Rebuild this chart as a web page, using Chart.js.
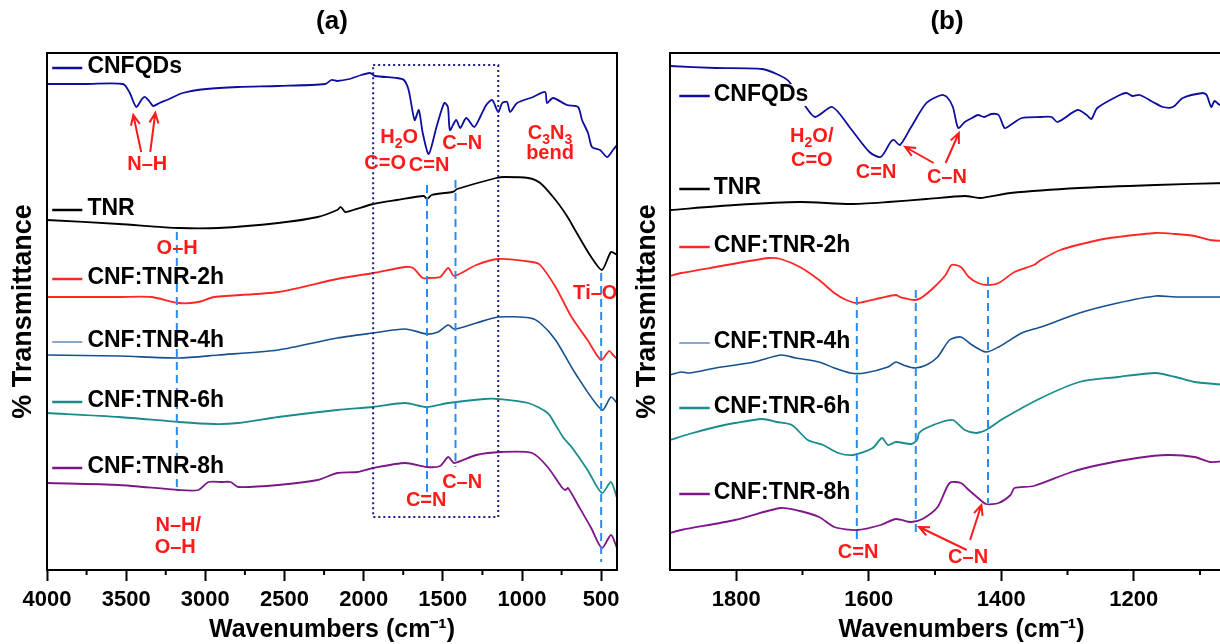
<!DOCTYPE html>
<html>
<head>
<meta charset="utf-8">
<title>FTIR spectra</title>
<script src="https://cdn.jsdelivr.net/npm/chart.js@4.4.1/dist/chart.umd.min.js"></script>
<style>
  html, body { margin: 0; padding: 0; background: #fff; width: 1220px; height: 644px; overflow: hidden; }
  .panel { position: absolute; top: 0; height: 644px; }
  #wrapA { left: 0; width: 620px; }
  #wrapB { left: 620px; width: 640px; }
</style>
</head>
<body>
<div class="panel" id="wrapA"><canvas id="chartA" width="620" height="644"></canvas></div>
<div class="panel" id="wrapB"><canvas id="chartB" width="640" height="644"></canvas></div>
<script>
const FONT = "'Liberation Sans', Arial, Helvetica, sans-serif";
Chart.defaults.font.family = FONT;
Chart.defaults.color = "#000";

// ---------- panel (a): full range, [wavenumber cm-1, %T (offset, a.u.)] ----------
const cnfqdsA = [[4000,97.2],[3750,97.2],[3520,97.2],[3480,95.6],[3436,92.6],[3400,94.2],[3380,94.6],[3355,93.8],[3330,92.8],[3290,93.4],[3243,94],[3143,95.4],[2994,96.2],[2792,96.6],[2540,96.8],[2243,97.2],[2204,98],[2167,97.8],[2090,98.2],[2015,99],[1960,99.4],[1928,98.8],[1790,98.4],[1746,98],[1716,96],[1678,90],[1652,92],[1627,87.4],[1589,83.2],[1540,88.6],[1491,93.4],[1468,92.6],[1455,88],[1416,90],[1390,88.4],[1352,90.4],[1302,88.6],[1264,90.6],[1226,93],[1188,94],[1150,91.6],[1125,93.4],[1094,93.6],[1075,91.6],[1031,93.4],[930,94.6],[854,95.6],[842,93.4],[804,94.4],[716,93],[646,92.6],[621,90],[583,87.4],[558,84.6],[507,84],[463,82.6],[425,84],[400,85]];
const tnrA = [[4000,70],[3544,69.2],[3167,68.4],[2918,68.4],[2540,69.4],[2290,70.6],[2167,72],[2145,72.6],[2116,71.6],[2066,72],[1940,73.2],[1790,74],[1620,74.8],[1600,74.2],[1570,75],[1440,75.6],[1425,75.8],[1410,76.2],[1163,78.4],[1112,78.6],[961,78.4],[885,77.4],[788,74],[712,70.6],[665,68],[563,62.6],[495,60],[438,63.6],[400,63]];
const tnr2hA = [[4000,54.6],[3544,54.6],[3342,54.6],[3167,53.4],[3044,53.6],[2943,54.6],[2540,55.6],[2167,58.2],[1940,59.4],[1738,60.6],[1688,60.4],[1627,58.4],[1590,58.4],[1517,58.6],[1466,60.4],[1428,58.8],[1289,61],[1150,62.2],[936,61.6],[885,61],[788,56.6],[687,50.6],[586,46],[500,42],[450,43.8],[425,43],[400,42.2]];
const tnr4hA = [[4000,43],[3544,42.8],[3167,42.4],[2918,43],[2540,44],[2167,46.4],[1940,47.4],[1738,48.2],[1600,47.2],[1530,47.6],[1466,49],[1428,48.2],[1289,49.4],[1150,50.6],[949,50.4],[885,49.4],[788,46],[665,39.4],[495,32],[438,34.6],[400,33.4]];
const tnr6hA = [[4000,31.4],[3544,30.6],[3167,29.6],[2943,29.2],[2792,29.4],[2540,30.6],[2167,32],[1940,32.6],[1738,33.4],[1600,32.6],[1466,33.4],[1239,34.2],[1150,34.2],[961,33.4],[838,31.4],[788,29],[737,26.4],[687,24.6],[586,20],[495,15.4],[438,17.6],[400,14.4]];
const tnr8hA = [[4000,17.4],[3544,17],[3167,16],[3044,16],[2980,17.6],[2893,17.6],[2840,17.6],[2792,16.6],[2540,17],[2290,18],[2167,19.4],[2041,19.6],[1940,20.4],[1738,21.4],[1602,20.6],[1517,20.8],[1466,22.6],[1428,21.4],[1289,23],[1132,23.6],[936,23.4],[838,20.6],[750,16.6],[725,16],[709,16.4],[639,12.6],[563,8.4],[495,4.4],[438,7],[400,4.4]];
const ticksA = [500,750,1000,1250,1500,1750,2000,2250,2500,2750,3000,3250,3500,3750,4000];
const majorA = [500,1000,1500,2000,2500,3000,3500,4000];
const keyYA = [100.6, 72.2, 58.4, 45.8, 33.8, 20.6];
const keyXA = [3967, 3777, 3745];
const dashA = [[3180,67.6,15.6],[1600,77,15],[1420,78,20.6],[500,59.4,1.6]];
const boxA = [1940, 1150, 101, 10.6];
const peaksA = [["N–H",3367,81.2],["H_2O",1776,86.6],["C=O",1864,81.4],["C=N",1587,81],["C–N",1378,85.4],["C_3N_3",823,87.4],["bend",823,83.4],["O–H",3178,64.4],["Ti–O",538,55.4],["C=N",1605,14],["C–N",1378,17.6],["N–H/",3171,9],["O–H",3190,4.6]];
const arrowsA = [[3405,83.6,3455,91],[3348,83.6,3316,91.4]];

// ---------- panel (b): 1900-1020 cm-1 zoom ----------
const cnfqdsB = [[1900,100.8],[1831,100.4],[1761,100.2],[1739,99.2],[1721,97.8],[1698,93.2],[1681,90.6],[1655,92.6],[1628,88.4],[1599,83.6],[1582,82.6],[1567,85.6],[1562,86],[1553,85],[1536,88.6],[1513,93.4],[1490,95],[1482,94.6],[1473,92.6],[1465,88.4],[1455,89.6],[1444,90.4],[1435,91],[1426,90.6],[1415,91.2],[1404,91],[1395,88.4],[1386,89],[1369,90.4],[1340,90.6],[1324,90.6],[1315,89.6],[1285,92],[1271,91],[1264,90.2],[1255,92.4],[1221,95],[1211,95.4],[1202,94.8],[1191,95],[1171,93.6],[1156,92.6],[1141,92.6],[1126,94.4],[1096,95.4],[1090,95],[1083,92.6],[1078,93.8],[1070,93],[1060,93.4]];
const tnrB = [[1900,72],[1802,73],[1704,73.6],[1628,73.2],[1571,73.6],[1513,74.2],[1455,74.8],[1432,74.4],[1386,75.4],[1282,76.4],[1167,77],[1060,77.4]];
const tnr2hB = [[1900,58.8],[1883,59.4],[1831,60.6],[1751,62.4],[1733,62.2],[1704,60.6],[1675,58],[1652,55.4],[1634,54],[1617,53.4],[1582,54.4],[1559,55],[1553,54.6],[1530,54],[1519,54.6],[1501,56.6],[1484,59],[1475,61],[1461,60.6],[1449,58.6],[1435,57.4],[1421,57],[1404,57.4],[1380,59.6],[1351,61],[1340,62],[1311,64],[1253,66],[1224,66.6],[1167,67.4],[1137,67.2],[1108,66.8],[1085,66],[1060,65.8]];
const tnr4hB = [[1900,39],[1883,39.6],[1871,39.4],[1831,40.4],[1773,41.6],[1733,43],[1710,42.4],[1675,41.6],[1652,40.4],[1628,39.4],[1606,39.4],[1571,40.6],[1559,41.6],[1548,41],[1530,40.4],[1513,41],[1496,42.6],[1478,46],[1461,46.6],[1444,45],[1423,43.6],[1404,44.6],[1369,47.4],[1340,48.6],[1282,51.4],[1224,53.4],[1167,54.8],[1137,54.6],[1108,54.6],[1060,54.6]];
const tnr6hB = [[1900,26],[1871,27.2],[1831,28.6],[1802,29.4],[1761,30.2],[1739,29.6],[1716,29],[1692,26],[1669,25],[1646,23.4],[1623,23],[1594,24.4],[1580,26.4],[1571,25],[1559,25.6],[1536,25.2],[1527,26],[1524,27.4],[1513,28.4],[1490,29.6],[1473,30],[1455,28],[1438,27.4],[1423,28],[1398,30.2],[1340,34.4],[1282,37.6],[1224,38.6],[1167,39.4],[1137,38.6],[1108,37.6],[1060,37]];
const tnr8hB = [[1900,7.4],[1883,8],[1802,10],[1733,12.4],[1704,11.8],[1675,10.6],[1652,8.6],[1617,8],[1582,9],[1559,10.2],[1536,9.6],[1519,10.2],[1496,12.6],[1478,17.4],[1461,17.4],[1449,16],[1435,14.4],[1423,13.2],[1404,13.4],[1386,15],[1380,16.4],[1351,16.8],[1294,19.6],[1253,21],[1195,22.4],[1149,23],[1108,22.6],[1085,21.6],[1060,21.8]];
const ticksB = [1100,1200,1300,1400,1500,1600,1700,1800];
const majorB = [1200,1400,1600,1800];
const keyYB = [95, 76.4, 64.8, 45.6, 32.6, 15.4];
const keyXB = [1886, 1840, 1834];
const dashB = [[1618,54.6,5.6],[1529,56,7.4],[1420,58.6,13.4]];
const peaksB = [["H_2O/",1686,86.8],["C=O",1686,82],["C=N",1589,79.6],["C–N",1482,78.6],["C=N",1616,3.6],["C–N",1450,2.6]];
const arrowsB = [[1502,81.4,1545,84.6],[1484,81.4,1464,87.4],[1452,4,1524,8.6],[1447,6,1430,13]];

const names = ["CNFQDs", "TNR", "CNF:TNR-2h", "CNF:TNR-4h", "CNF:TNR-6h", "CNF:TNR-8h"];
const colors = ["#0d0d9e", "#000000", "#ff2626", "#17508f", "#1a8b8b", "#7c1689"];
const keyWidths = [2.5, 2.5, 2.5, 1, 2.5, 2.5];
const RED = "#ff1a1a";

function toXY(arr) {
  return arr.map(p => ({ x: p[0], y: p[1] }));
}

// text with "_d" subscripts, e.g. H_2O
function drawRich(ctx, str, x, y, size, align) {
  const parts = [];
  for (let i = 0; i < str.length; i++) {
    if (str[i] === "_") { parts.push({ t: str[i + 1], sub: true }); i++; }
    else parts.push({ t: str[i], sub: false });
  }
  const big = "bold " + size + "px " + FONT;
  const small = "bold " + Math.round(size * 0.72) + "px " + FONT;
  let w = 0;
  parts.forEach(p => { ctx.font = p.sub ? small : big; p.w = ctx.measureText(p.t).width; w += p.w; });
  let cx = align === "left" ? x : x - w / 2;
  ctx.textAlign = "left";
  ctx.textBaseline = "middle";
  parts.forEach(p => {
    ctx.font = p.sub ? small : big;
    ctx.fillText(p.t, cx, p.sub ? y + size * 0.38 : y);
    cx += p.w;
  });
  return w;
}

function drawArrow(ctx, x0, y0, x1, y1) {
  const ang = Math.atan2(y1 - y0, x1 - x0), L = 11, s = 0.42;
  ctx.beginPath();
  ctx.moveTo(x0, y0);
  ctx.lineTo(x1, y1);
  ctx.moveTo(x1 - L * Math.cos(ang - s), y1 - L * Math.sin(ang - s));
  ctx.lineTo(x1, y1);
  ctx.lineTo(x1 - L * Math.cos(ang + s), y1 - L * Math.sin(ang + s));
  ctx.stroke();
}

// peak marks, arrows, labels and the in-plot legend
const ftirNotes = {
  id: "ftirNotes",
  afterDatasetsDraw(chart, args, opts) {
    const { ctx, chartArea: a } = chart;
    const xs = chart.scales.x, ys = chart.scales.y;
    const px = v => xs.getPixelForValue(v), py = v => ys.getPixelForValue(v);
    ctx.save();
    ctx.beginPath();
    ctx.rect(a.left, a.top, a.right - a.left, a.bottom - a.top);
    ctx.clip();

    if (opts.box) {
      const [x0, x1, y0, y1] = opts.box;
      ctx.strokeStyle = "#1c1c86";
      ctx.lineWidth = 2;
      ctx.setLineDash([2, 3]);
      ctx.strokeRect(px(x0), py(y0), px(x1) - px(x0), py(y1) - py(y0));
    }
    ctx.strokeStyle = "#2b8cf0";
    ctx.lineWidth = 2;
    ctx.setLineDash([8, 5]);
    opts.dash.forEach(([w, y0, y1]) => {
      ctx.beginPath();
      ctx.moveTo(px(w), py(y0));
      ctx.lineTo(px(w), py(y1));
      ctx.stroke();
    });
    ctx.setLineDash([]);

    ctx.strokeStyle = RED;
    ctx.lineWidth = 2;
    opts.arrows.forEach(([x0, y0, x1, y1]) => drawArrow(ctx, px(x0), py(y0), px(x1), py(y1)));
    ctx.fillStyle = RED;
    opts.peaks.forEach(([t, w, v]) => drawRich(ctx, t, px(w), py(v), 20, "center"));

    // legend entries next to each trace
    const [l0, l1, tx] = opts.keyX;
    names.forEach((n, i) => {
      const y = py(opts.keyY[i]);
      ctx.font = "bold 23px " + FONT;
      const tw = ctx.measureText(n).width;
      if (opts.keyBg) {
        ctx.fillStyle = "#fff";
        ctx.fillRect(px(tx) - 2, y - 11, tw + 4, 22);
      }
      ctx.strokeStyle = colors[i];
      ctx.lineWidth = keyWidths[i];
      ctx.beginPath();
      ctx.moveTo(px(l0), y + 1);
      ctx.lineTo(px(l1), y + 1);
      ctx.stroke();
      ctx.fillStyle = "#000";
      ctx.textAlign = "left";
      ctx.textBaseline = "middle";
      ctx.fillText(n, px(tx), y);
    });
    ctx.restore();
  },
  afterDraw(chart, args, opts) {
    const { ctx, chartArea: a } = chart;
    const xs = chart.scales.x;
    ctx.save();
    ctx.strokeStyle = "#000";
    ctx.lineWidth = 2;
    ctx.strokeRect(a.left, a.top, a.right - a.left, a.bottom - a.top);
    // minor ticks
    opts.ticks.filter(v => !opts.major.includes(v)).forEach(v => {
      const x = xs.getPixelForValue(v);
      ctx.beginPath();
      ctx.moveTo(x, a.bottom);
      ctx.lineTo(x, a.bottom + 5);
      ctx.stroke();
    });
    ctx.restore();
  }
};

function makeChart(id, cfg) {
  const datasets = cfg.series.map((s, i) => ({
    label: names[i],
    data: toXY(s),
    borderColor: colors[i],
    borderWidth: i === 3 ? 1.6 : 1.8,
    pointRadius: 0,
    tension: 0.25,
    fill: false
  }));
  return new Chart(document.getElementById(id), {
    type: "line",
    data: { datasets },
    plugins: [ftirNotes],
    options: {
      responsive: false,
      animation: false,
      parsing: false,
      layout: { padding: { top: 0, right: cfg.padRight, left: 0, bottom: 0 } },
      plugins: {
        legend: { display: false },
        tooltip: { enabled: false },
        title: {
          display: true,
          text: cfg.title,
          fullSize: false,
          color: "#000",
          font: { size: 26, weight: "bold" },
          padding: { top: 6.4, bottom: 15.4 }
        },
        ftirNotes: cfg.notes
      },
      scales: {
        x: {
          type: "linear",
          reverse: true,
          min: cfg.xMin,
          max: cfg.xMax,
          afterBuildTicks: s => { s.ticks = cfg.notes.ticks.map(v => ({ value: v })); },
          afterFit: s => { s.height = 74; },
          border: { display: false },
          grid: {
            display: true,
            drawOnChartArea: false,
            drawTicks: true,
            tickLength: 11,
            tickWidth: 2,
            tickColor: c => (c.tick && cfg.notes.major.includes(c.tick.value)) ? "#000" : "rgba(0,0,0,0)"
          },
          ticks: {
            autoSkip: false,
            maxRotation: 0,
            padding: 6,
            color: "#000",
            font: { size: 22, weight: "bold" },
            callback: v => cfg.notes.major.includes(v) ? String(v) : ""
          },
          title: {
            display: true,
            text: "Wavenumbers (cm⁻¹)",
            color: "#000",
            font: { size: 25, weight: "bold" },
            padding: { top: 0, bottom: -1 }
          }
        },
        y: {
          min: 0,
          max: 103.4,
          afterFit: s => { s.width = cfg.yWidth; },
          border: { display: false },
          grid: { display: false },
          ticks: { display: false },
          title: {
            display: true,
            text: "% Transmittance",
            color: "#000",
            font: { size: 27, weight: "bold" },
            padding: { top: cfg.yTitlePad, bottom: 0 }
          }
        }
      }
    }
  });
}

makeChart("chartA", {
  title: "(a)",
  series: [cnfqdsA, tnrA, tnr2hA, tnr4hA, tnr6hA, tnr8hA],
  xMin: 400, xMax: 4000,
  padRight: 3, yWidth: 47, yTitlePad: 7,
  notes: { ticks: ticksA, major: majorA, keyY: keyYA, keyX: keyXA, dash: dashA, box: boxA, peaks: peaksA, arrows: arrowsA, keyBg: false }
});

makeChart("chartB", {
  title: "(b)\u00a0\u00a0\u00a0\u00a0",
  series: [cnfqdsB, tnrB, tnr2hB, tnr4hB, tnr6hB, tnr8hB],
  xMin: 1020, xMax: 1900,
  padRight: 7, yWidth: 50, yTitlePad: 11,
  notes: { ticks: ticksB, major: majorB, keyY: keyYB, keyX: keyXB, dash: dashB, box: null, peaks: peaksB, arrows: arrowsB, keyBg: true }
});
</script>
</body>
</html>
